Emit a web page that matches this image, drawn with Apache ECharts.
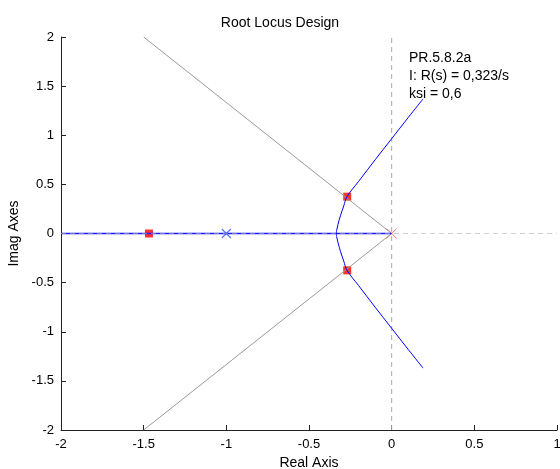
<!DOCTYPE html>
<html><head><meta charset="utf-8">
<script src="https://cdn.jsdelivr.net/npm/echarts@6/dist/echarts.min.js"></script>
<style>html,body{margin:0;padding:0;background:#fff}#c{width:560px;height:469px}</style>
</head><body><div id="c"></div>
<script>
const xTicks = [-2, -1.5, -1, -0.5, 0, 0.5, 1];
const yTicks = [-2, -1.5, -1, -0.5, 0, 0.5, 1, 1.5, 2];
const locusUpper = [[0.19,1.37],[0.10,1.18],[0.0,0.965],[-0.1,0.75],[-0.2,0.53],[-0.27,0.375],[-0.29,0.28],[-0.31,0.18],[-0.325,0.09],[-0.333,0.03],[-0.335,0]];
const locusLower = [[0.19,-1.37],[0.10,-1.18],[0.0,-0.965],[-0.1,-0.75],[-0.2,-0.53],[-0.27,-0.375],[-0.29,-0.28],[-0.31,-0.18],[-0.325,-0.09],[-0.333,-0.03],[-0.335,0]];
const locusReal = [[-2,0],[0,0]];
const dampUpper = [[0,0],[-1.5,2]];
const dampLower = [[0,0],[-1.5,-2]];
const refVertical = [[0,-2],[0,2]];
const refHorizontal = [[-2,0],[1,0]];
const olPoleBlue = [[-1,0]];
const olPoleRed = [[0,0]];
const clPoles = [[-1.468,0],[-0.269,0.375],[-0.269,-0.375]];
const clPoleAngles = [0, 55, -55];
const noteLines = ['PR.5.8.2a','I: R(s) = 0,323/s','ksi = 0,6'];

const chart = echarts.init(document.getElementById('c'));
const font = 'Arial, "Liberation Sans", sans-serif';
const lineS = (data, color, extra) => Object.assign({type:'line', data, symbol:'none', silent:true, animation:false,
  lineStyle:{color, width:1}}, extra||{});
const crossPath = 'path://M0,0L10,10M10,0L0,10';
chart.setOption({
  animation:false,
  title:{text:'Root Locus Design', left:'center', top:11, textStyle:{fontSize:14, fontWeight:'normal', color:'#000', fontFamily:font}},
  grid:{left:61, right:3, top:37, bottom:39, outerBoundsMode:'none', containLabel:false},
  xAxis:{type:'value', min:-2, max:1, interval:0.5, name:'Real Axis', nameLocation:'middle', nameGap:23,
    nameTextStyle:{fontSize:14, color:'#000', fontFamily:font},
    axisLine:{onZero:false, lineStyle:{color:'#222'}}, axisTick:{inside:true, length:5, lineStyle:{color:'#222'}},
    axisLabel:{color:'#000', fontSize:13, margin:8, fontFamily:font}, splitLine:{show:false}},
  yAxis:{type:'value', min:-2, max:2, interval:0.5, name:'Imag Axes', nameLocation:'middle', nameGap:36,
    nameTextStyle:{fontSize:14, color:'#000', fontFamily:font},
    axisLine:{onZero:false, lineStyle:{color:'#222'}}, axisTick:{inside:true, length:5, lineStyle:{color:'#222'}},
    axisLabel:{color:'#000', fontSize:13, margin:7, fontFamily:font}, splitLine:{show:false}},
  graphic:[{type:'text', left:409, top:49, style:{text:noteLines.join('\n'), fontSize:14, lineHeight:18, fill:'#000', font:'14px Arial, "Liberation Sans", sans-serif'}}],
  series:[
    lineS(dampUpper, '#999'),
    lineS(dampLower, '#999'),
    lineS(refVertical, '#aaa', {lineStyle:{color:'#aaa', width:1, type:[5,4]}}),
    lineS(locusReal, '#1a1aff', {lineStyle:{color:'#1a1aff', width:1.4}}),
    lineS(refHorizontal, '#aaa', {lineStyle:{color:'#b4b4b4', width:1, type:[5,4], opacity:0.6}}),
    lineS(locusUpper, '#0000ff', {smooth:0.35}),
    lineS(locusLower, '#0000ff', {smooth:0.35}),
    {type:'scatter', data:olPoleBlue, symbol:crossPath, symbolSize:9, silent:true,
      itemStyle:{color:'rgba(0,0,0,0)', borderColor:'#3355ff', borderWidth:1.2}},
    {type:'scatter', data:olPoleRed, symbol:crossPath, symbolSize:10, silent:true,
      itemStyle:{color:'rgba(0,0,0,0)', borderColor:'#ff5555', borderWidth:1}},
    {type:'scatter', data:clPoles, symbol:'rect', symbolSize:8, silent:true, itemStyle:{color:'#ff0000'}},
    {type:'scatter', data:clPoles.map((p,i)=>({value:p, symbolRotate:clPoleAngles[i]})), symbol:'rect', symbolSize:[7,1], silent:true, itemStyle:{color:'#33bb33'}}
  ]
});
</script></body></html>
